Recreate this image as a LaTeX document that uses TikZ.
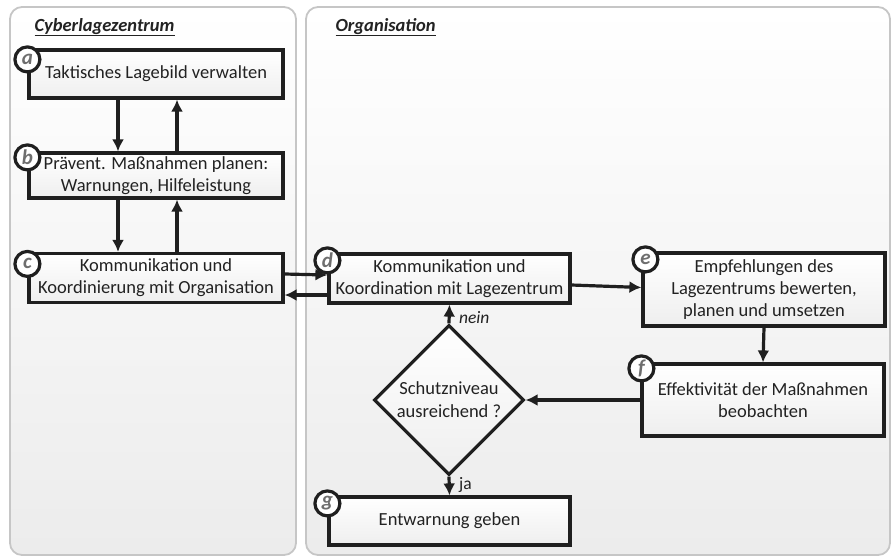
\documentclass[tikz,border=0pt]{standalone}
\usepackage{fontspec}
\setmainfont{Carlito}
\usetikzlibrary{positioning,shapes.geometric,arrows.meta}
\definecolor{txtgray}{HTML}{222222}
\definecolor{lettergray}{HTML}{6E6E6E}
\tikzset{every picture/.style={line width=3.2pt}}
\tikzset{
  panel/.style={draw=gray!45, line width=1.8pt, rounded corners=12pt, top color=white, bottom color=gray!15},
  stepbox/.style={draw=black!88, rectangle, top color=white, bottom color=gray!13, align=center, text=txtgray, font=\fontsize{18.5}{22}\selectfont, inner sep=1pt},
  decision/.style={draw=black!88, diamond, aspect=1, top color=white, bottom color=gray!13, align=center, text=txtgray, font=\fontsize{18.5}{23}\selectfont, inner sep=0pt},
  marker/.style={draw=black!88, circle, fill=white, minimum size=25pt, inner sep=0pt, text=lettergray, font=\fontsize{21}{21}\selectfont\bfseries\itshape},
  heading/.style={anchor=base west, inner sep=0pt, text=txtgray, font=\fontsize{18.5}{18}\selectfont\bfseries\itshape},
  flow/.style={-{Latex[length=12pt,width=12pt]}, black!88},
  answer/.style={text=txtgray, font=\fontsize{17.5}{17}\selectfont, xshift=5pt}
}

\begin{document}
\begin{tikzpicture}[x=1pt, y=-1pt]
    \useasboundingbox (0,0) rectangle (894,558);
    % Two swimlanes
\draw[panel] (10,7) rectangle (296,555);
\draw[panel] (306,7) rectangle (890,555);
\node[heading] (lz) at (33,31) {\underline{Cyberlagezentrum}};
\node[heading] (org) at (334,31) {\underline{Organisation}};

    % Lagezentrum steps
\node[stepbox, minimum width=254pt, minimum height=48pt] (a) at (156,74) {Taktisches Lagebild verwalten};
\node[stepbox, minimum width=254pt, minimum height=45pt] (b) at (156,175.5) {Prävent. Maßnahmen planen:\\Warnungen, Hilfeleistung};
\node[stepbox, minimum width=254pt, minimum height=49pt] (c) at (156,278) {Kommunikation und\\Koordinierung mit Organisation};

    % Organisation steps
\node[stepbox, minimum width=241pt, minimum height=49pt] (d) at (449.5,278.5) {Kommunikation und\\Koordination mit Lagezentrum};
\node[stepbox, minimum width=242pt, minimum height=73pt] (e) at (764,289.5) {Empfehlungen des\\Lagezentrums bewerten,\\planen und umsetzen};
\node[stepbox, minimum width=242pt, minimum height=72pt] (f) at (763,400) {Effektivität der Maßnahmen\\beobachten};
\node[decision, minimum size=150pt] (q) at (449,400) {Schutzniveau\\ausreichend ?};
\node[stepbox, minimum width=241pt, minimum height=48pt] (g) at (449.5,521) {Entwarnung geben};

    % Letter markers
\node[marker] (ma) at ([yshift=-11pt]a.north west) {a};
\node[marker] (mb) at ([yshift=-6pt]b.north west) {b};
\node[marker] (mc) at ([yshift=-12pt]c.north west) {c};
\node[marker] (md) at ([yshift=-8pt]d.north west) {d};
\node[marker] (me) at ([xshift=4pt,yshift=-8pt]e.north west) {e};
\node[marker] (mf) at ([xshift=1pt,yshift=-6pt]f.north west) {f};
\node[marker] (mg) at ([yshift=-8pt]g.north west) {g};

    % Connections
\draw[flow] ([xshift=-38pt]a.south) -- ([xshift=-38pt]b.north);
\draw[flow] ([xshift=21pt]b.north) -- ([xshift=21pt]a.south);
\draw[flow] ([xshift=-38pt]b.south) -- ([xshift=-38pt]c.north);
\draw[flow] ([xshift=21pt]c.north) -- ([xshift=21pt]b.south);

\draw[flow] ([yshift=4pt]c.east) -- ([yshift=3.5pt]d.west);
\draw[flow] ([yshift=-16.5pt]d.west) -- ([yshift=-17pt]c.east);
\draw[flow] ([yshift=-6.5pt]d.east) -- ([yshift=2pt]e.west);
\draw[flow] (e.south) -- (f.north);
\draw[flow] (f.west) -- (q.east);
\draw[flow] (q.north) -- (d.south) node[pos=0.3, right, answer] {\itshape nein};
\draw[flow] (q.south) -- (g.north) node[pos=0.45, right, answer] {ja};
\end{tikzpicture}
\end{document}
